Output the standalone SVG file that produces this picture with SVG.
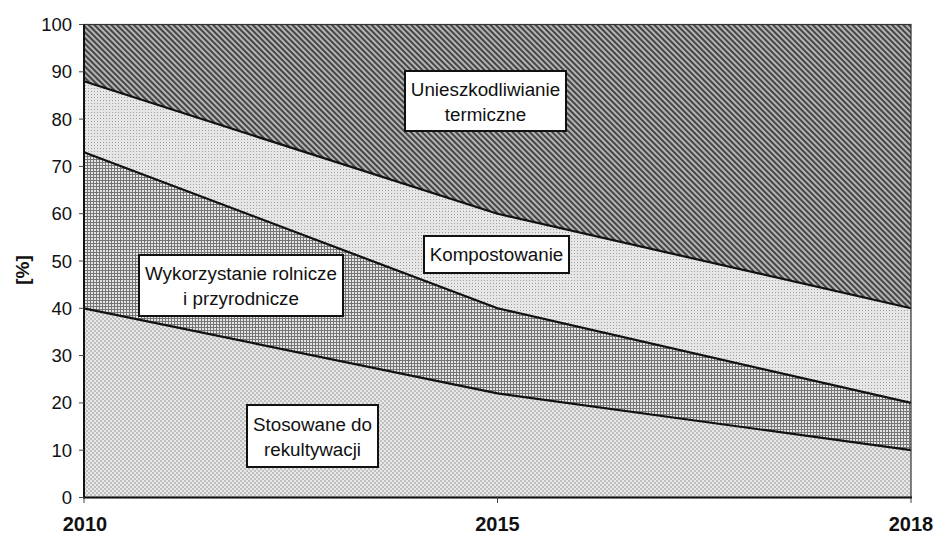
<svg xmlns="http://www.w3.org/2000/svg" width="935" height="536" viewBox="0 0 935 536">
<style>
.tk{font-family:"Liberation Sans",Arial,sans-serif;font-size:18.5px;fill:#111;text-anchor:end}
.xl{font-family:"Liberation Sans",Arial,sans-serif;font-size:20px;font-weight:bold;fill:#111;text-anchor:middle}
.lb{font-family:"Liberation Sans",Arial,sans-serif;font-size:18.8px;fill:#111;text-anchor:middle}
.box{fill:#fff;stroke:#111;stroke-width:2}
.bnd{fill:none;stroke:#111;stroke-width:2.2;stroke-linejoin:round}
.tick{stroke:#444;stroke-width:1}
</style>
<defs>
<pattern id="pStripe" width="4" height="4" patternUnits="userSpaceOnUse" patternTransform="rotate(45)">
<rect width="4" height="4" fill="#464646"/>
<rect width="4" height="1.8" fill="#c0c0c0"/>
</pattern>
<pattern id="pDot1" width="3" height="3" patternUnits="userSpaceOnUse">
<rect width="3" height="3" fill="#e6e6e6"/>
<rect x="1" y="1" width="1" height="1" fill="#a0a0a0"/>
</pattern>
<pattern id="pGrid" width="3" height="3" patternUnits="userSpaceOnUse">
<rect width="3" height="3" fill="#e4e4e4"/>
<rect width="3" height="1" fill="#767676"/>
<rect width="1" height="3" fill="#767676"/>
</pattern>
<pattern id="pDot2" width="4" height="4" patternUnits="userSpaceOnUse">
<rect width="4" height="4" fill="#e8e8e8"/>
<rect x="0" y="0" width="2" height="2" fill="#c0c0c0"/>
<rect x="2" y="2" width="2" height="2" fill="#c0c0c0"/>
</pattern>
</defs>
<rect width="935" height="536" fill="#fff"/>
<g id="areas">
<polygon id="area-termiczne" points="84,24.5 911,24.5 911,308.3 497.5,213.7 84,81.3" fill="url(#pStripe)"/>
<polygon id="area-kompost" points="84,81.3 497.5,213.7 911,308.3 911,402.9 497.5,308.3 84,152.2" fill="url(#pDot1)"/>
<polygon id="area-rolnicze" points="84,152.2 497.5,308.3 911,402.9 911,450.2 497.5,393.4 84,308.3" fill="url(#pGrid)"/>
<polygon id="area-rekult" points="84,308.3 497.5,393.4 911,450.2 911,497.5 84,497.5" fill="url(#pDot2)"/>
</g>
<g id="connectors">
<polyline class="bnd" points="84,81.3 497.5,213.7 911,308.3"/>
<polyline class="bnd" points="84,152.2 497.5,308.3 911,402.9"/>
<polyline class="bnd" points="84,308.3 497.5,393.4 911,450.2"/>
<rect x="84" y="24.5" width="827" height="473" fill="none" stroke="#333" stroke-width="1.2"/>
<line x1="84" y1="24" x2="84" y2="498.5" stroke="#111" stroke-width="2"/>
<line x1="83" y1="497.5" x2="912" y2="497.5" stroke="#111" stroke-width="2"/>
</g>
<g id="axis-y">
<g class="tick">
<line x1="79" y1="24.5" x2="84" y2="24.5"/><line x1="79" y1="71.8" x2="84" y2="71.8"/><line x1="79" y1="119.1" x2="84" y2="119.1"/><line x1="79" y1="166.4" x2="84" y2="166.4"/><line x1="79" y1="213.7" x2="84" y2="213.7"/><line x1="79" y1="261" x2="84" y2="261"/><line x1="79" y1="308.3" x2="84" y2="308.3"/><line x1="79" y1="355.6" x2="84" y2="355.6"/><line x1="79" y1="402.9" x2="84" y2="402.9"/><line x1="79" y1="450.2" x2="84" y2="450.2"/><line x1="79" y1="497.5" x2="84" y2="497.5"/>
</g>
<text class="tk" x="72" y="31">100</text>
<text class="tk" x="72" y="78.3">90</text>
<text class="tk" x="72" y="125.6">80</text>
<text class="tk" x="72" y="172.9">70</text>
<text class="tk" x="72" y="220.2">60</text>
<text class="tk" x="72" y="267.5">50</text>
<text class="tk" x="72" y="314.8">40</text>
<text class="tk" x="72" y="362.1">30</text>
<text class="tk" x="72" y="409.4">20</text>
<text class="tk" x="72" y="456.7">10</text>
<text class="tk" x="72" y="504">0</text>
<text class="xl" transform="translate(29,270) rotate(-90)" style="font-size:19px">[%]</text>
</g>
<g id="axis-x">
<g class="tick">
<line x1="84" y1="497.5" x2="84" y2="503"/><line x1="497.5" y1="497.5" x2="497.5" y2="503"/><line x1="911" y1="497.5" x2="911" y2="503"/>
</g>
<text class="xl" x="85" y="531">2010</text>
<text class="xl" x="497.5" y="531">2015</text>
<text class="xl" x="911" y="531">2018</text>
</g>
<g id="label-termiczne">
<rect class="box" x="405" y="71" width="161" height="60"/>
<text class="lb" x="485.5" y="95.5">Unieszkodliwianie</text>
<text class="lb" x="485.5" y="121">termiczne</text>
</g>
<g id="label-kompost">
<rect class="box" x="424" y="236" width="145" height="37"/>
<text class="lb" x="496.5" y="261">Kompostowanie</text>
</g>
<g id="label-rolnicze">
<rect class="box" x="139" y="255" width="204" height="61"/>
<text class="lb" x="241" y="279.5">Wykorzystanie rolnicze</text>
<text class="lb" x="241" y="305">i przyrodnicze</text>
</g>
<g id="label-rekult">
<rect class="box" x="247" y="405" width="131" height="62"/>
<text class="lb" x="312.5" y="430.5">Stosowane do</text>
<text class="lb" x="312.5" y="456">rekultywacji</text>
</g>
</svg>
